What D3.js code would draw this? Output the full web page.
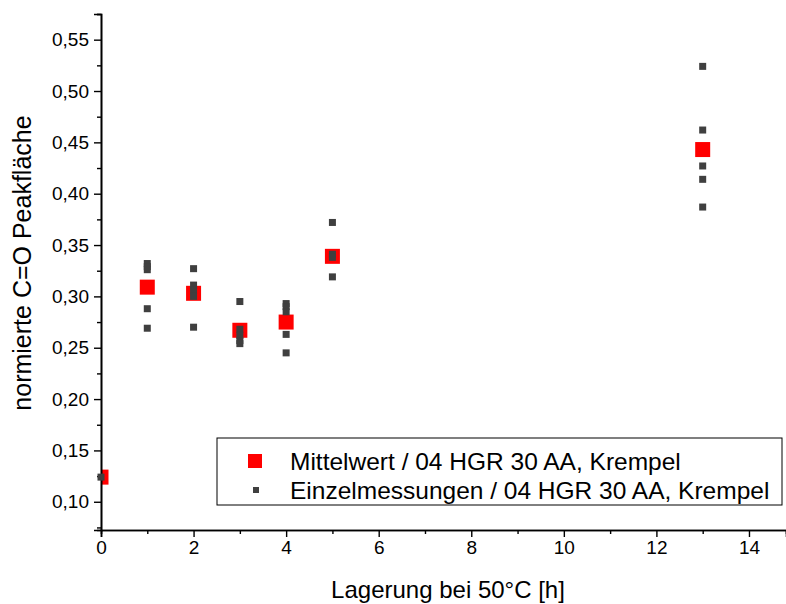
<!DOCTYPE html>
<html>
<head>
<meta charset="utf-8">
<script src="https://cdn.jsdelivr.net/npm/d3@7"></script>
<style>
  html, body { margin: 0; padding: 0; background: #fff; }
  svg { display: block; font-family: "Liberation Sans", Arial, sans-serif; }
</style>
</head>
<body>
<svg id="chart" width="786" height="604"></svg>
<script>
// Storage time at 50 °C in hours
const meanHours = [0, 1, 2, 3, 4, 5, 13];
// Mean normalised C=O peak area per storage time
const meanValues = [0.124, 0.309, 0.303, 0.267, 0.275, 0.339, 0.443];

// Individual measurements
const singleHours = [0,
  1, 1, 1, 1, 1,
  2, 2, 2, 2, 2,
  3, 3, 3, 3, 3,
  4, 4, 4, 4, 4,
  5, 5, 5, 5,
  13, 13, 13, 13, 13];
const singleValues = [0.124,
  0.332, 0.329, 0.326, 0.288, 0.269,
  0.327, 0.311, 0.306, 0.300, 0.270,
  0.295, 0.268, 0.262, 0.257, 0.254,
  0.293, 0.290, 0.285, 0.263, 0.245,
  0.372, 0.341, 0.338, 0.319,
  0.524, 0.462, 0.427, 0.414, 0.387];

const yTicks = [0.10, 0.15, 0.20, 0.25, 0.30, 0.35, 0.40, 0.45, 0.50, 0.55];
const yMinorTicks = [0.075, 0.125, 0.175, 0.225, 0.275, 0.325, 0.375, 0.425, 0.475, 0.525, 0.575];
const xTicks = [0, 2, 4, 6, 8, 10, 12, 14];
const xMinorTicks = [1, 3, 5, 7, 9, 11, 13];

const legendLabels = ["Mittelwert / 04 HGR 30 AA, Krempel", "Einzelmessungen / 04 HGR 30 AA, Krempel"];
const xTitle = "Lagerung bei 50°C [h]";
const yTitle = "normierte C=O Peakfläche";

const svg = d3.select("#chart");
const plotLeft = 101, plotRight = 786, plotTop = 14, plotBottom = 530;

const x = d3.scaleLinear().domain([0, 14.8]).range([plotLeft, plotRight]);
const y = d3.scaleLinear().domain([0.0725, 0.575]).range([plotBottom, plotTop]);

const fmt = d => d3.format(".2f")(d).replace(".", ",");

svg.append("defs").append("clipPath").attr("id", "plotClip")
  .append("rect").attr("x", plotLeft).attr("y", plotTop)
  .attr("width", plotRight - plotLeft).attr("height", plotBottom - plotTop);

// Mean markers (clipped to the plot area)
svg.append("g").attr("clip-path", "url(#plotClip)")
  .selectAll("rect").data(meanHours.map((h, i) => [h, meanValues[i]]))
  .join("rect")
  .attr("x", d => x(d[0]) - 7.5).attr("y", d => y(d[1]) - 7.5)
  .attr("width", 15).attr("height", 15)
  .attr("fill", "#ff0000");

// Axes
svg.append("g").attr("transform", `translate(${plotLeft},0)`)
  .call(d3.axisLeft(y).tickValues(yTicks).tickFormat(fmt).tickSize(7).tickPadding(5));
svg.append("g").attr("transform", `translate(${plotLeft},0)`)
  .call(d3.axisLeft(y).tickValues(yMinorTicks).tickFormat("").tickSize(4));

svg.append("g").attr("transform", `translate(0,${plotBottom})`)
  .call(d3.axisBottom(x).tickValues(xTicks).tickFormat(d3.format("d")).tickSize(7).tickPadding(4));
svg.append("g").attr("transform", `translate(0,${plotBottom})`)
  .call(d3.axisBottom(x).tickValues(xMinorTicks).tickFormat("").tickSize(4));

svg.selectAll(".domain").attr("stroke", "#000").attr("stroke-width", 1.6);
svg.selectAll(".tick line").attr("stroke", "#000").attr("stroke-width", 1.4);
svg.selectAll(".tick text").attr("font-size", 19).attr("fill", "#000")
  .attr("font-family", "Liberation Sans, Arial, sans-serif");

// Individual measurement markers
svg.append("g")
  .selectAll("rect").data(singleHours.map((h, i) => [h, singleValues[i]]))
  .join("rect")
  .attr("x", d => x(d[0]) - 3.5).attr("y", d => y(d[1]) - 3.5)
  .attr("width", 7).attr("height", 7)
  .attr("fill", "#3f3f3f");

// Axis titles
svg.append("text").attr("x", 448).attr("y", 598).attr("text-anchor", "middle")
  .attr("font-size", 24).attr("fill", "#000").text(xTitle);
svg.append("text").attr("transform", `translate(31,263) rotate(-90)`)
  .attr("text-anchor", "middle").attr("font-size", 25).attr("fill", "#000").text(yTitle);

// Legend
const lg = svg.append("g");
lg.append("rect").attr("x", 217).attr("y", 438).attr("width", 565).attr("height", 67)
  .attr("fill", "#fff").attr("stroke", "#000").attr("stroke-width", 1);
lg.append("rect").attr("x", 248).attr("y", 454).attr("width", 14).attr("height", 14).attr("fill", "#ff0000");
lg.append("rect").attr("x", 253).attr("y", 487).attr("width", 6).attr("height", 6).attr("fill", "#3f3f3f");
lg.selectAll("text.lab").data(legendLabels).join("text").attr("class", "lab")
  .attr("x", 290).attr("y", (d, i) => 461 + i * 29).attr("dy", "0.35em")
  .attr("font-size", 24.5).attr("fill", "#000").text(d => d);
</script>
</body>
</html>
